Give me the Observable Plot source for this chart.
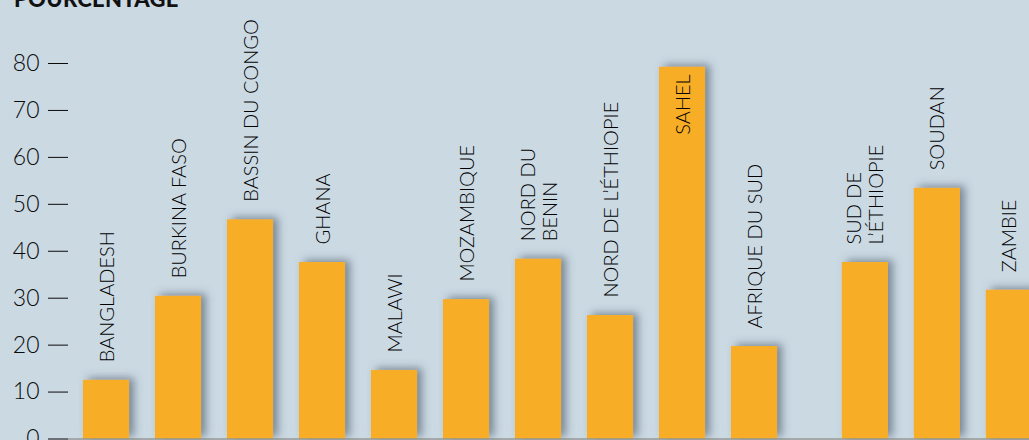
<!DOCTYPE html>
<html>
<head>
<meta charset="utf-8">
<script src="https://cdn.jsdelivr.net/npm/d3@7"></script>
<script src="https://cdn.jsdelivr.net/npm/@observablehq/plot@0.6"></script>
<style>
  html, body { margin: 0; padding: 0; background: #cbd9e3; overflow: hidden; }
  #wrap { position: relative; width: 1029px; height: 440px; overflow: hidden; }
  #title { position: absolute; left: 14px; top: -12px; font-family: Lato, "Open Sans", sans-serif;
           font-weight: 900; font-size: 22px; line-height: 22px; color: #111; letter-spacing: 0.3px; }
</style>
</head>
<body>
<div id="wrap">
  <div id="chart"></div>
  <div id="title">POURCENTAGE</div>
</div>
<script>
const categories = ["BANGLADESH", "BURKINA FASO", "BASSIN DU CONGO", "GHANA", "MALAWI", "MOZAMBIQUE",
  "NORD DU\nBENIN", "NORD DE L’ÉTHIOPIE", "SAHEL", "AFRIQUE DU SUD", "SUD DE\nL’ÉTHIOPIE", "SOUDAN", "ZAMBIE"];
const values = [12.5, 30.4, 46.7, 37.6, 14.6, 29.7, 38.3, 26.3, 79.2, 19.7, 37.6, 53.4, 31.7];
const groups = [0, 0, 0, 0, 0, 0, 0, 0, 0, 0, 1, 1, 1];
const yTicks = [0, 10, 20, 30, 40, 50, 60, 70, 80];

const groupGap = 0.54;
const halfBar = 0.32;
const data = categories.map((c, i) => ({
  name: c, v: values[i], p: i + groups[i] * groupGap
}));
const vmax = d3.max(values);
const outside = data.filter(d => d.v < vmax);
const inside = data.filter(d => d.v === vmax);

const chart = Plot.plot({
  width: 1029,
  height: 440,
  marginLeft: 68,
  marginRight: 0,
  marginTop: 63,
  marginBottom: 1.5,
  style: { background: "#cbd9e3", fontFamily: "Lato, 'Open Sans', sans-serif", fontSize: "23px", color: "#0a0a0a" },
  x: { domain: [-38 / 72, 923 / 72], axis: null },
  y: { domain: [0, 80], ticks: yTicks, tickSize: 20, tickPadding: 9, label: null, line: false },
  marks: [
    Plot.rectY(data, { x1: d => d.p - halfBar, x2: d => d.p + halfBar, y: "v", fill: "#f7ae27" }),
    Plot.ruleY([0], { stroke: "#7d7b70", strokeWidth: 1 }),
    Plot.text(outside, { x: "p", y: "v", text: "name", rotate: -90, textAnchor: "start", dy: -18,
      fontSize: 20, fontWeight: 300, lineHeight: 1.1, fill: "#000" }),
    Plot.text(inside, { x: "p", y: "v", text: "name", rotate: -90, textAnchor: "end", dy: 7,
      fontSize: 20, fontWeight: 300, lineHeight: 1.1, fill: "#000" })
  ]
});

const svg = d3.select(chart);
svg.selectAll('g[aria-label="y-axis tick label"] text').attr("font-weight", 300);
const f = svg.insert("defs", ":first-child").append("filter")
  .attr("id", "barshadow").attr("x", "-50%").attr("y", "-50%").attr("width", "200%").attr("height", "200%");
f.append("feDropShadow").attr("dx", 5).attr("dy", -2).attr("stdDeviation", 4.5)
  .attr("flood-color", "#3f5363").attr("flood-opacity", 0.6);
svg.select('g[aria-label="rect"]').attr("filter", "url(#barshadow)");

document.getElementById("chart").appendChild(chart);
</script>
</body>
</html>
